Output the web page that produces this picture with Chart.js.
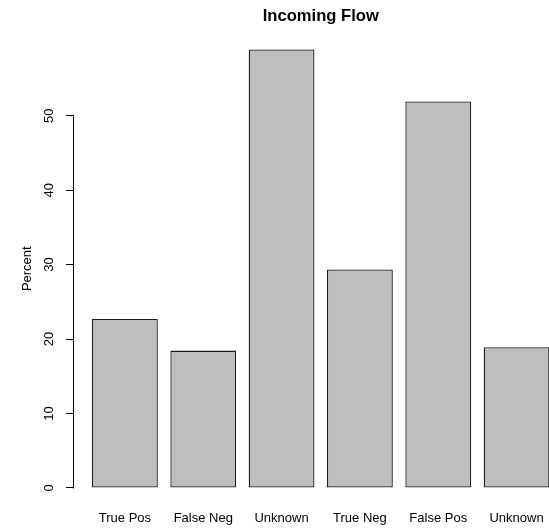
<!DOCTYPE html>
<html>
<head>
<meta charset="utf-8">
<script src="https://cdn.jsdelivr.net/npm/chart.js@4"></script>
<style>
  html, body { margin: 0; padding: 0; background: #fff; overflow: hidden; }
  #wrap { width: 580px; height: 531px; position: relative; }
</style>
</head>
<body>
<div id="wrap"><canvas id="c"></canvas></div>
<script>
// ---- data ----
const categories = ["True Pos", "False Neg", "Unknown", "True Neg", "False Pos", "Unknown"];
const percentValues = [22.7, 18.45, 58.9, 29.35, 51.9, 18.9];
const yTickValues = [0, 10, 20, 30, 40, 50];
const chartTitle = "Incoming Flow";
const yAxisLabel = "Percent";

// R barplot geometry: bar width 1, space 0.2, axis range extended by 4%
const barSpace = 0.2;
const barCenters = categories.map((_, i) => barSpace + 0.5 + i * (1 + barSpace));
const xLo = barSpace, xHi = categories.length * (1 + barSpace);
const xExt = (xHi - xLo) * 0.04;
const yMaxData = Math.max(...percentValues);
const yExt = yMaxData * 0.04;

const FONT = "'Liberation Sans', Arial, Helvetica, sans-serif";

const axisLinePlugin = {
  id: 'axisLine',
  afterDraw(chart) {
    const ys = chart.scales.y;
    const ctx = chart.ctx;
    const x = Math.round(chart.chartArea.left) - 0.5;
    ctx.save();
    ctx.strokeStyle = '#000';
    ctx.lineWidth = 1;
    ctx.beginPath();
    ctx.moveTo(x, Math.round(ys.getPixelForValue(yTickValues[0])) + 0.5);
    ctx.lineTo(x, Math.round(ys.getPixelForValue(yTickValues[yTickValues.length - 1])) + 0.5);
    ctx.stroke();
    ctx.restore();
  }
};

new Chart(document.getElementById('c'), {
  type: 'bar',
  data: {
    datasets: [{
      data: barCenters.map((x, i) => ({ x: x, y: percentValues[i] })),
      backgroundColor: '#bebebe',
      borderColor: '#1a1a1a',
      borderWidth: 1.3,
      borderSkipped: false,
      categoryPercentage: 1,
      barPercentage: 0.84
    }]
  },
  options: {
    responsive: true,
    maintainAspectRatio: false,
    animation: false,
    devicePixelRatio: 1,
    layout: { padding: { left: 0, right: 12.5, top: 0, bottom: 0 } },
    plugins: {
      legend: { display: false },
      tooltip: { enabled: false },
      title: {
        display: true,
        text: chartTitle,
        fullSize: false,
        color: '#000',
        font: { family: FONT, size: 16.6, weight: 'bold' },
        padding: { top: 6, bottom: 6 }
      }
    },
    scales: {
      x: {
        type: 'linear',
        offset: false,
        min: xLo - xExt,
        max: xHi + xExt,
        grid: { display: false, drawTicks: false },
        border: { display: false },
        afterBuildTicks(scale) {
          scale.ticks = barCenters.map(v => ({ value: v }));
        },
        afterFit(scale) { scale.height = 25.5; },
        ticks: {
          autoSkip: false,
          maxRotation: 0,
          minRotation: 0,
          padding: 5,
          color: '#000',
          font: { family: FONT, size: 13 },
          callback: (v, i) => categories[i]
        }
      },
      y: {
        min: -yExt,
        max: yMaxData + yExt,
        grid: {
          display: true,
          drawOnChartArea: false,
          drawTicks: true,
          tickLength: 8,
          color: '#000',
          tickColor: '#000',
          lineWidth: 1
        },
        border: { display: false },
        afterBuildTicks(scale) {
          scale.ticks = yTickValues.map(v => ({ value: v }));
        },
        afterFit(scale) { scale.width = 74; },
        ticks: {
          minRotation: 90,
          maxRotation: 90,
          crossAlign: 'center',
          padding: 9,
          color: '#000',
          font: { family: FONT, size: 13 }
        },
        title: {
          display: true,
          text: yAxisLabel,
          color: '#000',
          font: { family: FONT, size: 13 },
          padding: { top: 20, bottom: 0 }
        }
      }
    }
  },
  plugins: [axisLinePlugin]
});
</script>
</body>
</html>
